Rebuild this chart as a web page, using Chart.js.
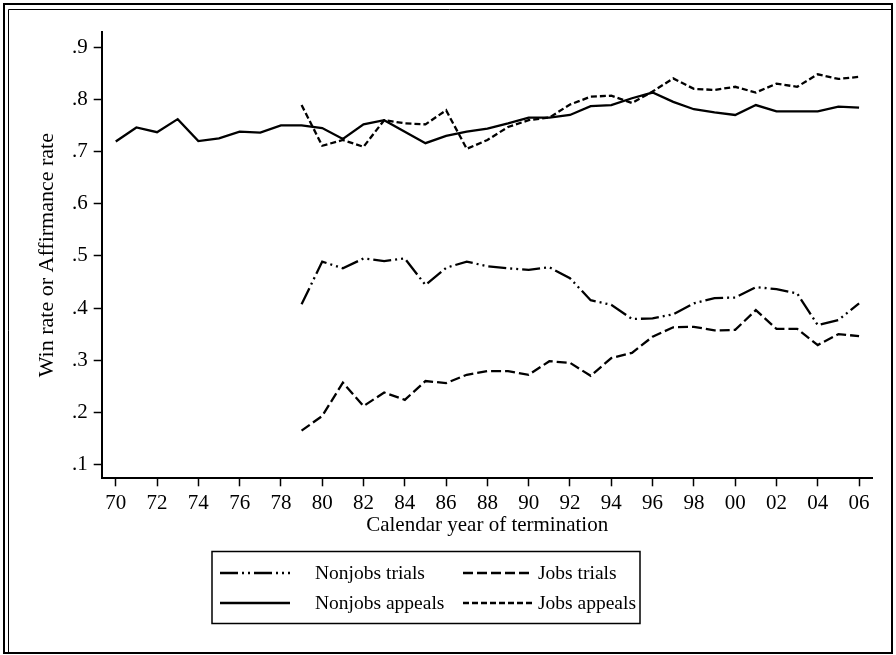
<!DOCTYPE html>
<html>
<head>
<meta charset="utf-8">
<script src="https://cdn.jsdelivr.net/npm/chart.js@4.4.0/dist/chart.umd.min.js"></script>
<style>
body { margin: 0; background: #fff; }
#wrap { width: 896px; height: 655px; }
</style>
</head>
<body>
<div id="wrap"><canvas id="myChart" width="896" height="655"></canvas></div>
<script>
var yearsAll = [1970,1971,1972,1973,1974,1975,1976,1977,1978,1979,1980,1981,1982,1983,1984,1985,1986,1987,1988,
    1989,1990,1991,1992,1993,1994,1995,1996,1997,1998,1999,2000,2001,2002,2003,2004,2005,2006];
var yearsFrom79 = [1979,1980,1981,1982,1983,1984,1985,1986,1987,1988,1989,1990,1991,1992,1993,1994,1995,1996,
    1997,1998,1999,2000,2001,2002,2003,2004,2005,2006];

var nonjobsAppeals = [.719,.746,.737,.762,.720,.725,.738,.736,.750,.750,
    .745,.724,.752,.760,.738,.716,.730,.738,.744,.754,
    .765,.765,.770,.787,.789,.802,.813,.795,.781,.775,
    .770,.789,.777,.777,.777,.786,.784];
var jobsAppeals = [.789,.711,.722,.709,.760,.754,.752,.779,.705,.722,.747,.760,.765,.790,
    .805,.807,.793,.815,.840,.820,.818,.824,.813,.830,.824,.848,.839,.843];
var nonjobsTrials = [.407,.489,.476,.495,.490,.495,.444,.477,.489,.480,.476,.473,.478,.457,
    .415,.406,.379,.380,.388,.409,.419,.420,.440,.436,.428,.367,.377,.409];
var jobsTrials = [.165,.193,.257,.212,.238,.224,.260,.256,.272,.279,.279,.272,.298,.295,
    .270,.304,.314,.345,.363,.364,.357,.358,.396,.360,.360,.329,.350,.346];

var xTickYears = [1970,1972,1974,1976,1978,1980,1982,1984,1986,1988,1990,1992,1994,1996,1998,2000,2002,2004,2006];
var yTickValues = [0.1,0.2,0.3,0.4,0.5,0.6,0.7,0.8,0.9];
var xTitle = 'Calendar year of termination';
var yTitle = 'Win rate or Affirmance rate';

var serif = "'Liberation Serif', 'Times New Roman', serif";

function pts(years, vals) {
    return vals.map(function(v, i) { return {x: years[i], y: v}; });
}

function series(label, years, vals, dash) {
    return {
        label: label,
        data: pts(years, vals),
        borderColor: '#000',
        borderWidth: 2.3,
        borderDash: dash,
        borderCapStyle: 'butt',
        pointRadius: 0,
        tension: 0,
        fill: false
    };
}

// legend box + outer frame, drawn after the chart
var boxLegend = {
    id: 'boxLegend',
    afterDraw: function(chart) {
        var ctx = chart.ctx;
        ctx.save();
        ctx.strokeStyle = '#000';
        ctx.setLineDash([]);
        ctx.lineWidth = 1.5;
        ctx.strokeRect(212, 551.5, 428, 72);

        var keys = [220, 463], texts = [315, 538], rows = [573, 603];
        chart.data.datasets.forEach(function(ds, i) {
            var cx = keys[i % 2], cy = rows[Math.floor(i / 2)];
            ctx.beginPath();
            ctx.lineWidth = ds.borderWidth;
            ctx.setLineDash(ds.borderDash || []);
            ctx.moveTo(cx, cy);
            ctx.lineTo(cx + 70, cy);
            ctx.stroke();
            ctx.setLineDash([]);
            ctx.fillStyle = '#000';
            ctx.font = '19.5px ' + serif;
            ctx.textBaseline = 'middle';
            ctx.fillText(ds.label, texts[i % 2], cy + 1);
        });

        // double frame round the figure
        ctx.lineWidth = 2;
        ctx.strokeRect(4, 4, 888, 649);
        ctx.lineWidth = 1;
        ctx.beginPath();
        ctx.moveTo(8.5, 652);
        ctx.lineTo(8.5, 9.5);
        ctx.lineTo(891, 9.5);
        ctx.stroke();
        ctx.restore();
    }
};

window.onload = function() {
    var ctx = document.getElementById('myChart').getContext('2d');
    window.myLine = new Chart(ctx, {
        type: 'line',
        data: {
            datasets: [
                series('Nonjobs trials', yearsFrom79, nonjobsTrials, [18, 4, 2, 4, 2, 4]),
                series('Jobs trials', yearsFrom79, jobsTrials, [10, 4]),
                series('Nonjobs appeals', yearsAll, nonjobsAppeals, []),
                series('Jobs appeals', yearsFrom79, jobsAppeals, [6, 3])
            ]
        },
        options: {
            responsive: false,
            animation: false,
            layout: { padding: { left: 10, right: 23.3, top: 32, bottom: 116.7 } },
            plugins: {
                legend: { display: false },
                title: { display: false },
                tooltip: { enabled: false }
            },
            scales: {
                x: {
                    type: 'linear',
                    min: 1969.32,
                    max: 2006.66,
                    afterBuildTicks: function(s) {
                        s.ticks = xTickYears.map(function(v) { return {value: v}; });
                    },
                    afterFit: function(s) { s.height = 60; },
                    ticks: {
                        autoSkip: false,
                        maxRotation: 0,
                        padding: 5,
                        color: '#000',
                        font: { family: serif, size: 21 },
                        callback: function(v) { return String(v % 100).padStart(2, '0'); }
                    },
                    grid: { drawOnChartArea: false, drawTicks: true, tickLength: 8, tickColor: '#000', tickWidth: 1.5 },
                    border: { display: true, color: '#000', width: 2 },
                    title: { display: true, text: xTitle, color: '#000', font: { family: serif, size: 21 }, padding: { top: 0, bottom: 0 } }
                },
                y: {
                    min: 0.0736,
                    max: 0.929,
                    afterBuildTicks: function(s) {
                        s.ticks = yTickValues.map(function(v) { return {value: v}; });
                    },
                    afterFit: function(s) { s.width = 91.7; },
                    ticks: {
                        padding: 6,
                        color: '#000',
                        font: { family: serif, size: 21 },
                        callback: function(v) { return v.toFixed(1).replace(/^0/, ''); }
                    },
                    grid: { drawOnChartArea: false, drawTicks: true, tickLength: 8, tickColor: '#000', tickWidth: 1.5 },
                    border: { display: true, color: '#000', width: 2 },
                    title: { display: true, text: yTitle, color: '#000', font: { family: serif, size: 22 }, padding: { top: 24, bottom: 0 } }
                }
            }
        },
        plugins: [boxLegend]
    });
};
</script>
</body>
</html>
